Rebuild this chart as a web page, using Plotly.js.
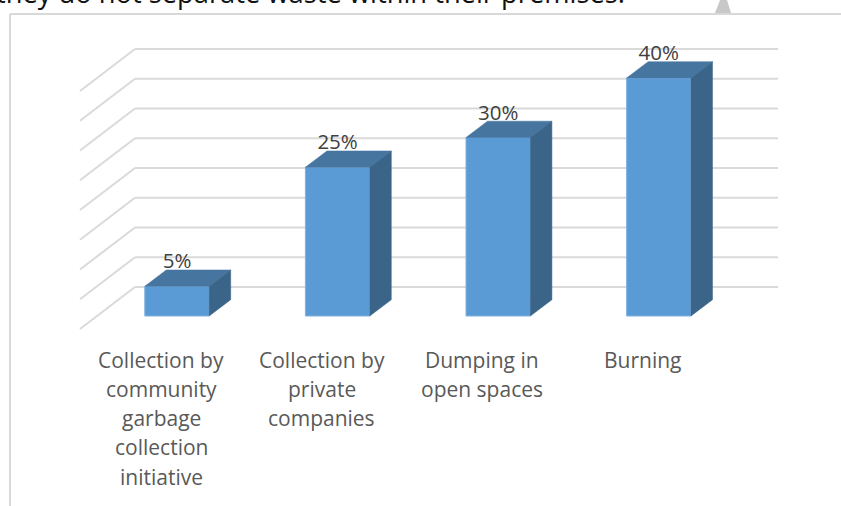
<!DOCTYPE html>
<html><head><meta charset="utf-8">
<script src="https://cdn.plot.ly/plotly-3.0.1.min.js"></script>
<style>html,body{margin:0;padding:0;background:#fff;overflow:hidden}</style>
</head><body><div id="chart" style="width:841px;height:506px"></div>
<script>
const categories = ["Collection by\ncommunity\ngarbage\ncollection\ninitiative","Collection by\nprivate\ncompanies","Dumping in\nopen spaces","Burning"];
const values = [5,25,30,40];
const gridLevels = [0,5,10,15,20,25,30,35,40];
const headline = "they do not separate waste within their premises.";

const W=841,H=506, pxPerCat=160.6, pxPerUnit=5.95, x0=177, y0=316;
const xr=[-x0/pxPerCat,(W-x0)/pxPerCat], yr=[(y0-H)/pxPerUnit,y0/pxPerUnit];
const dx=p=>p/pxPerCat, dy=p=>p/pxPerUnit;
const halfW=dx(32.2), depthX=dx(21.5), depthY=dy(16.3);
const xs=values.map((_,i)=>i);

const GRID="#dadada";
const shapes=[];
gridLevels.forEach(v=>{
  const yb=v+dy(29);
  const path=[[dx(80-x0),yb-dy(42)],[dx(135-x0),yb],[dx(778-x0),yb]];
  path.slice(1).forEach((p,k)=>shapes.push({type:"line",layer:"below",xref:"x",yref:"y",
    x0:path[k][0],y0:path[k][1],x1:p[0],y1:p[1],line:{color:GRID,width:2}}));
});
const frame={color:"#d9d9d9",width:2};
shapes.push({type:"line",xref:"paper",yref:"paper",x0:10/W,x1:10/W,y0:0,y1:1-14/H,line:frame});
shapes.push({type:"line",xref:"paper",yref:"paper",x0:10/W,x1:1,y0:1-14/H,y1:1-14/H,line:frame});
shapes.push({type:"path",xref:"paper",yref:"paper",fillcolor:"#c8c8c8",line:{width:0},
  path:`M ${715/W} ${1-13/H} L ${731/W} ${1-13/H} L ${727/W} ${1-0/H} L ${720/W} ${1-0/H} Z`});

const front={type:"bar",x:xs,y:values,width:2*halfW,marker:{color:"#5B9BD5",line:{color:"#7FB2E0",width:1}},hoverinfo:"skip",showlegend:false};
function poly(pts,color){return {type:"scatter",mode:"lines",x:pts.map(p=>p[0]),y:pts.map(p=>p[1]),fill:"toself",fillcolor:color,
  line:{color:color,width:0.5},hoverinfo:"skip",showlegend:false};}
const tops=xs.map(i=>poly([[i-halfW,values[i]],[i+halfW,values[i]],[i+halfW+depthX,values[i]+depthY],[i-halfW+depthX,values[i]+depthY],[i-halfW,values[i]]],"#4675A0"));
const sides=xs.map(i=>poly([[i+halfW,0],[i+halfW+depthX,depthY],[i+halfW+depthX,values[i]+depthY],[i+halfW,values[i]],[i+halfW,0]],"#3A6488"));
const labels={type:"scatter",mode:"text",x:xs,y:values.map(v=>v+depthY-dy(3.5)),text:values.map(v=>v+"%"),textposition:"top center",
  textfont:{family:"Open Sans, sans-serif",size:20.5,color:"#404040"},hoverinfo:"skip",showlegend:false,cliponaxis:false};

const annotations=[];
categories.forEach((c,i)=>c.split("\n").forEach((t,k)=>annotations.push({
  xref:"x",yref:"y",x:i-dx(16),y:0,yshift:-(43.5+k*29.3),text:t,showarrow:false,xanchor:"center",yanchor:"middle",
  font:{family:"Open Sans, sans-serif",size:21,color:"#595959"}})));
annotations.push({xref:"paper",yref:"paper",x:-6/W,y:1+7.5/H,xanchor:"left",yanchor:"middle",showarrow:false,text:headline,
  font:{family:"Open Sans, sans-serif",size:27.3,color:"#111"}});

Plotly.newPlot("chart",[front,...tops,...sides,labels],{
  width:W,height:H,margin:{l:0,r:0,t:0,b:0},paper_bgcolor:"#fff",plot_bgcolor:"#fff",showlegend:false,
  xaxis:{range:xr,visible:false,fixedrange:true},yaxis:{range:yr,visible:false,fixedrange:true},
  shapes,annotations
},{displayModeBar:false,staticPlot:true});
</script></body></html>
